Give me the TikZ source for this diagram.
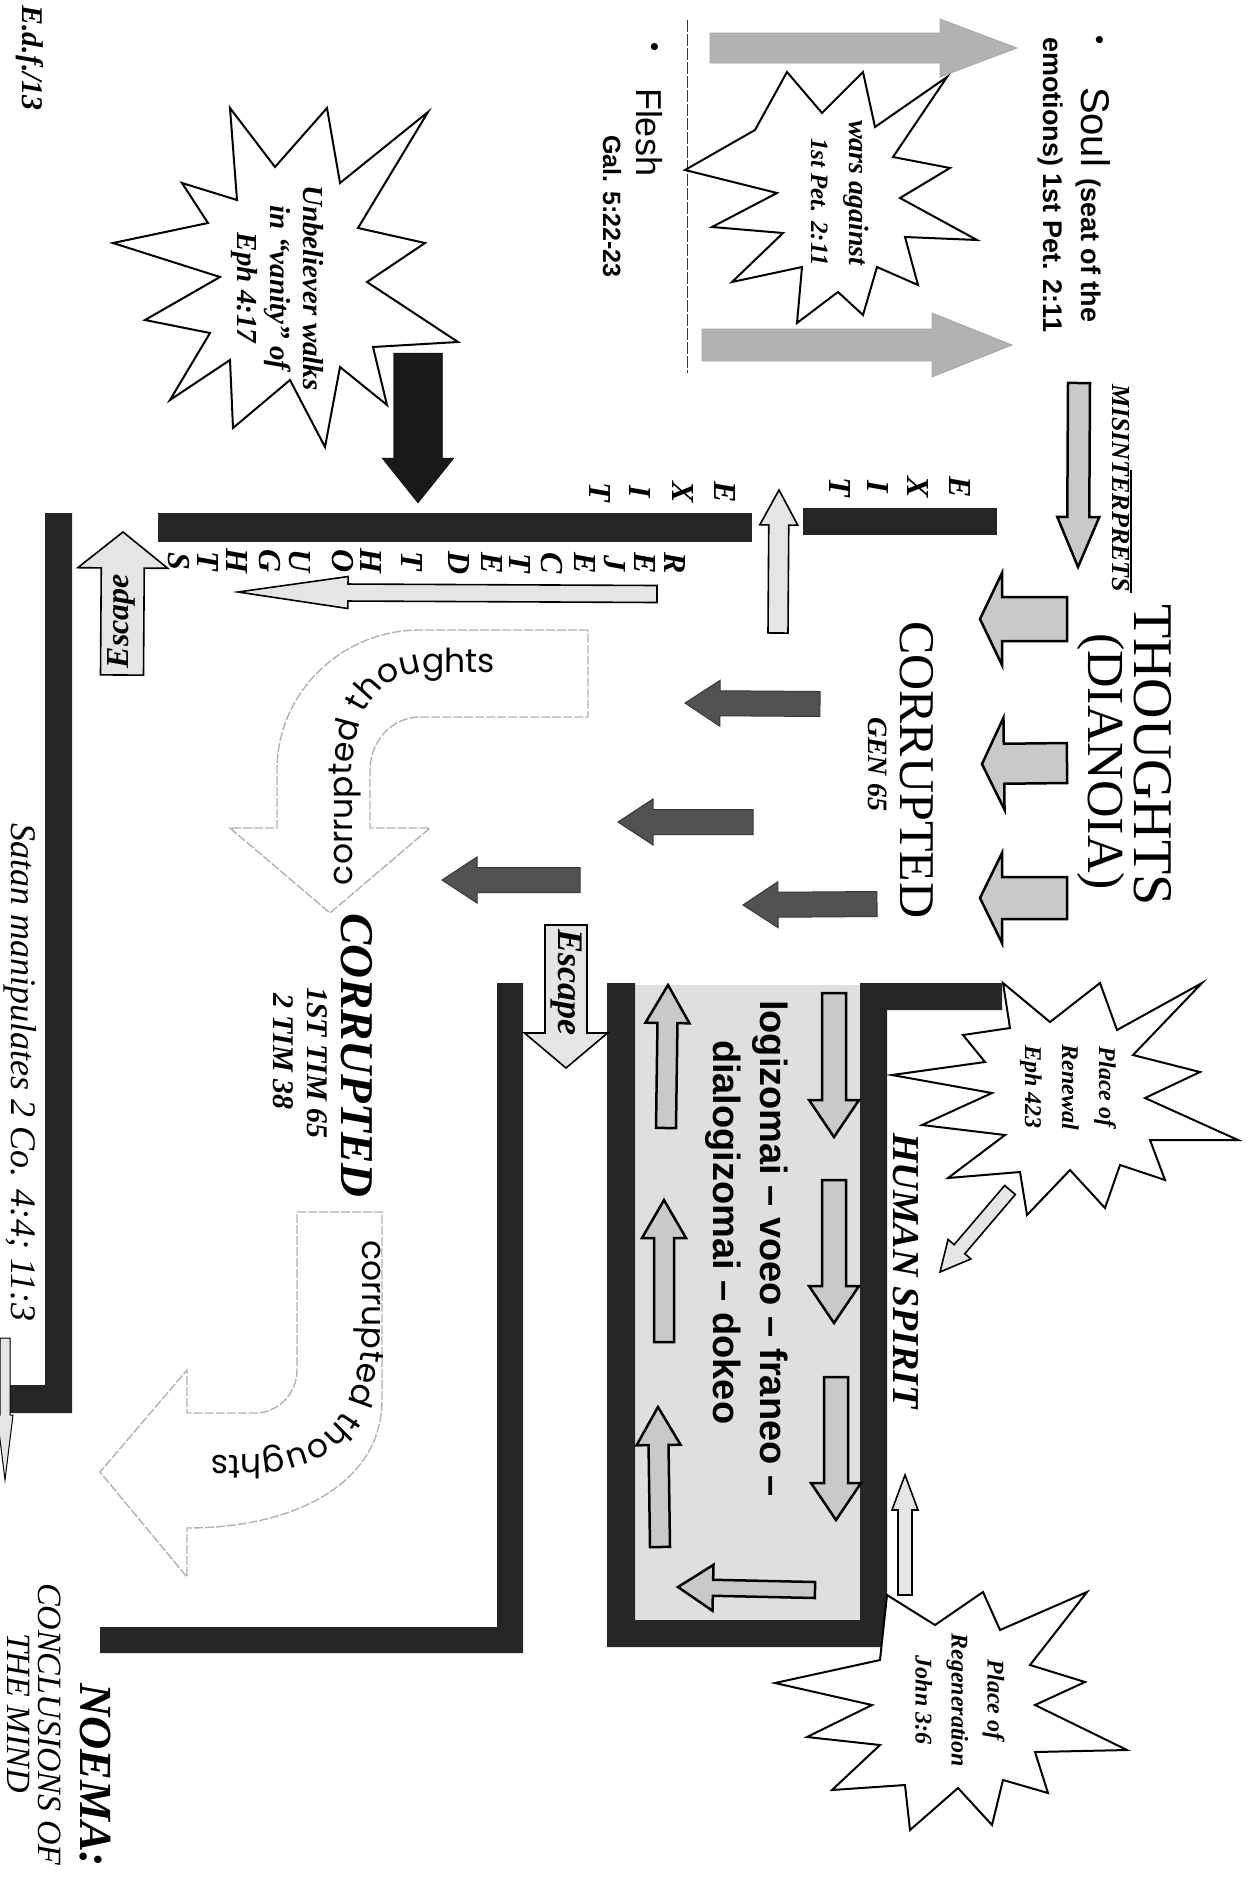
\documentclass[tikz,border=0pt]{standalone}
\usepackage{fontspec}
\setmainfont{Liberation Serif}
\newfontfamily\arial{Liberation Sans}
\newfontfamily\geo{Poppins}
\usetikzlibrary{calc,decorations.text}
\newcommand\setfs[1]{\fontsize{#1pt}{#1pt}\selectfont}
\newcommand\setfsb[2]{\fontsize{#1pt}{#2pt}\selectfont}
% block arrow: style, tail, tip, shaft half width, head half width, head length (px)
\newcommand\blk[6]{%
  \coordinate (bkT) at #2;
  \coordinate (bkH) at #3;
  \coordinate (bkB) at ($(bkH)!#6pt!(bkT)$);
  \draw[#1] ($(bkT)!#4pt!90:(bkH)$) -- ($(bkB)!#4pt!-90:(bkT)$) -- ($(bkB)!#5pt!-90:(bkT)$) -- (bkH) -- ($(bkB)!#5pt!90:(bkT)$) -- ($(bkB)!#4pt!90:(bkT)$) -- ($(bkT)!#4pt!-90:(bkH)$) -- cycle;
}
\tikzset{
  rt/.style={rotate=-90, inner sep=0pt, outer sep=0pt},
  barfill/.style={fill=black!85, draw=none},
  starline/.style={draw=black, line width=2pt, fill=white, line join=miter},
  garrow/.style={fill=gray!42, draw=black, line width=2.5pt, line join=miter},
  darrow/.style={fill=black!68, draw=black!78, line width=1pt},
  larrow/.style={fill=gray!20, draw=black, line width=1.6pt, line join=miter},
  rarrow/.style={fill=gray!60, draw=gray!70, line width=0.8pt},
  uarrow/.style={draw=gray!60, line width=1.4pt, dash pattern=on 9pt off 2pt, fill=white},
  letter/.style={rt, font=\bfseries\itshape\setfs{32}},
}
\begin{document}
\begin{tikzpicture}[x=1pt,y=-1pt]
\useasboundingbox (0,0) rectangle (1251,1891);
\fill[white] (0,0) rectangle (1251,1891);

% ---- grey box and black bars
\fill[gray!25] (635,985) rectangle (860,1620);
\fill[barfill] (607,983) -- (635,983) -- (635,1620) -- (860,1620) -- (860,983) -- (1002,983) -- (1002,1010) -- (887,1010) -- (887,1647) -- (607,1647) -- cycle;
\fill[barfill] (803,508) rectangle (997,535);
\fill[barfill] (158,513) rectangle (752,542);
\fill[barfill] (45,513) -- (72,513) -- (72,1413) -- (8,1413) -- (8,1385) -- (45,1385) -- cycle;
\fill[barfill] (497,983) -- (523,983) -- (523,1653) -- (100,1653) -- (100,1627) -- (497,1627) -- cycle;

% ---- divider between soul and flesh
\draw[black!80, line width=1pt, dash pattern=on 12pt off 2pt] (687,20) -- (687,373);
\draw[black, line width=2pt] (1131,470) -- (1131,593);

% ---- wars against arrows
\blk{rarrow}{(710,48)}{(1017,48)}{15}{29}{77}
\blk{rarrow}{(702,345)}{(1012,345)}{16}{32}{80}

% ---- stars
\draw[starline] (787,72) -- (822,113) -- (863,72) -- (875,127) -- (947,77) -- (893,157) -- (950,168) -- (900,198) -- (977,240) -- (905,237) -- (918,285) -- (877,267) -- (863,315) -- (838,292) -- (797,323) -- (802,267) -- (732,282) -- (783,233) -- (712,227) -- (777,193) -- (685,170) -- (755,130) -- cycle;
\draw[starline] (182,183) -- (237,200) -- (230,108) -- (275,167) -- (327,108) -- (340,183) -- (428,112) -- (358,228) -- (425,243) -- (367,282) -- (458,342) -- (373,347) -- (387,405) -- (340,367) -- (325,447) -- (290,380) -- (233,428) -- (230,360) -- (170,400) -- (210,333) -- (145,320) -- (220,277) -- (113,243) -- (208,223) -- cycle;
\draw[starline] (1003,983) -- (1050,1022) -- (1100,983) -- (1117,1030) -- (1202,983) -- (1133,1055) -- (1200,1072) -- (1145,1098) -- (1238,1140) -- (1150,1140) -- (1165,1180) -- (1120,1165) -- (1105,1208) -- (1070,1170) -- (1027,1215) -- (1020,1172) -- (948,1178) -- (1005,1135) -- (922,1125) -- (992,1093) -- (892,1075) -- (985,1062) -- (963,1035) -- (1010,1028) -- cycle;
\draw[starline] (887,1595) -- (935,1625) -- (983,1592) -- (1000,1630) -- (1087,1592) -- (1030,1665) -- (1085,1682) -- (1035,1705) -- (1127,1750) -- (1035,1752) -- (1048,1793) -- (1003,1780) -- (992,1825) -- (958,1788) -- (910,1830) -- (905,1785) -- (832,1790) -- (880,1745) -- (807,1737) -- (872,1705) -- (775,1683) -- (880,1660) -- cycle;

% ---- block arrows
\blk{fill=black!90, draw=black}{(418,353)}{(418,503)}{24.5}{36}{45}
\blk{garrow}{(1079,383)}{(1078,567)}{11}{21}{50}
\blk{garrow}{(1067,619)}{(980,619)}{22}{46}{22}
\blk{garrow}{(1067,763)}{(982,764)}{20}{46}{22}
\blk{garrow}{(1067,898)}{(980,898)}{21}{45}{22}
\blk{larrow}{(778,633)}{(779,490)}{10}{19}{35}
\blk{larrow}{(657,594)}{(238,592)}{8.5}{16}{110}
\blk{larrow}{(122,675)}{(123,532)}{21.5}{45}{36}
\blk{larrow}{(566,925)}{(566,1068)}{21}{41.5}{35}
\blk{darrow}{(820,704)}{(685,703)}{12.5}{23}{35}
\blk{darrow}{(753,822)}{(618,822)}{12.5}{23}{35}
\blk{darrow}{(580,880)}{(442,880)}{12.5}{23}{35}
\blk{darrow}{(877,904)}{(743,905)}{12.5}{23}{35}
\blk{garrow}{(834,993)}{(834,1137)}{12}{25}{37}
\blk{garrow}{(834,1180)}{(834,1323)}{12}{25}{37}
\blk{garrow}{(836,1377)}{(836,1520)}{12}{25}{37}
\blk{garrow}{(666,1128)}{(668,985)}{10}{22}{38}
\blk{garrow}{(664,1342)}{(664,1200)}{10}{22}{38}
\blk{garrow}{(660,1547)}{(658,1407)}{10}{22}{38}
\blk{garrow}{(815,1590)}{(678,1587)}{8}{23}{35}
\blk{larrow}{(1010,1190)}{(940,1272)}{7}{15}{30}
\blk{larrow}{(905,1595)}{(905,1475)}{7}{13}{35}
\blk{larrow, line width=1pt}{(5,1338)}{(5,1480)}{5}{8}{65}

% ---- curved "corrupted thoughts" arrows
\draw[uarrow] (588,630) -- (420,630) .. controls (341,630) and (277,693) .. (277,770) -- (277,828) -- (230,828) -- (330,913) -- (430,828) -- (370,828) -- (370,770) .. controls (370,741) and (392,717) .. (420,717) -- (588,717) -- cycle;
\path[decorate, decoration={text along path, text={|\geo\setfs{33}|corrupted thoughts}}] (352,885) -- (352,775) .. controls (352,712) and (380,672) .. (430,672) -- (600,672);
\draw[uarrow] (297,1212) -- (382,1212) -- (382,1400) .. controls (382,1480) and (300,1528) .. (187,1528) -- (187,1577) -- (100,1472) -- (187,1370) -- (187,1413) -- (255,1413) .. controls (278,1413) and (297,1394) .. (297,1370) -- cycle;
\path[decorate, decoration={text along path, text={|\geo\setfs{33}|corrupted thoughts}}] (362,1240) -- (362,1330) .. controls (360,1420) and (320,1455) .. (250,1455) -- (80,1455);

% ---- texts
\node[rt, font=\bfseries\itshape\setfs{30}] (edf) at (30,58) {E.d.f./13};
\node[rt, font=\arial\setfs{26}] (bul1) at (1097,40) {•};
\node[rt, anchor=base west, font=\arial\setfs{40}] (soul) at (1081,87) {Soul {\bfseries\setfs{27}(seat of the}};
\node[rt, anchor=base west, font=\arial\bfseries\setfs{27}] (emo) at (1043,37) {emotions) 1st Pet. 2:11};
\node[rt, font=\arial\setfs{26}] (bul2) at (652,47) {•};
\node[rt, anchor=base west, font=\arial\setfs{36}] (flesh) at (636,88) {Flesh};
\node[rt, anchor=base west, font=\arial\bfseries\setfs{25}] (gal) at (603,135) {Gal. 5:22-23};
\node[rt, anchor=base west, font=\bfseries\itshape\setfs{28}] (wars1) at (849,120) {wars against};
\node[rt, anchor=base west, font=\bfseries\itshape\setfs{25}] (wars2) at (811,138) {1st Pet. 2:11};
\node[rt, align=center, font=\bfseries\itshape\setfsb{29}{33}] (unbt) at (277,288) {Unbeliever walks\\in “vanity” of\\Eph 4:17};

\node[rt, anchor=base west, font=\bfseries\itshape\setfs{26}] (mis) at (1112,384) {MISINTERPRETS};
\node[rt, anchor=base west, font=\setfs{56}] (thoughts) at (1134,604) {THOUGHTS};
\node[rt, anchor=base west, font=\setfs{52}] (dianoia) at (1088,633) {(DIANOIA)};
\node[rt, anchor=base west, font=\setfs{50}] (corr1) at (900,621) {CORRUPTED};
\node[rt, anchor=base west, font=\bfseries\itshape\setfs{28}] (gen) at (868,717) {GEN 65};

\foreach \ch/\xx [count=\i] in {E/960,X/918,I/878,T/840} \node[letter] (exa\i) at (\xx,487) {\ch};
\foreach \ch/\xx [count=\i] in {E/725,X/683,I/640,T/600} \node[letter] (exb\i) at (\xx,492) {\ch};
\foreach \ch/\xx [count=\i] in {R/675,E/645,J/615,E/585,C/552,T/520,E/492,D/459} \node[letter] (rej\i) at (\xx,563) {\ch};
\foreach \ch/\xx [count=\i] in {T/412,H/371,O/343,U/300,G/270,H/237,T/208,S/179} \node[letter] (tho\i) at (\xx,561) {\ch};

\node[rotate=90, inner sep=0pt, font=\bfseries\itshape\setfs{32}] (esc1) at (121,621) {Escape};
\node[rt, font=\bfseries\itshape\setfs{36}] (esc2) at (566,982) {Escape};

\node[rt, anchor=base west, font=\bfseries\itshape\setfs{47}] (corr2) at (341,913) {CORRUPTED};
\node[rt, anchor=base west, font=\bfseries\itshape\setfs{30}] (tim1) at (307,987) {1ST TIM 65};
\node[rt, anchor=base west, font=\bfseries\itshape\setfs{30}] (tim2) at (273,993) {2 TIM 38};
\node[rt, anchor=base west, font=\itshape\setfs{36}] (satan) at (12,823) {Satan manipulates 2 Co. 4:4; 11:3};

\node[rt, anchor=base west, font=\bfseries\itshape\setfs{38}] (human) at (893,1133) {HUMAN SPIRIT};
\node[rt, anchor=base west, font=\arial\bfseries\setfs{38}] (logi) at (760,1000) {logizomai – voeo – franeo –};
\node[rt, anchor=base west, font=\arial\bfseries\setfs{38}] (dialo) at (713,1040) {dialogizomai – dokeo};
\node[rt, align=center, font=\bfseries\itshape\setfsb{24}{37}] (renew) at (1068,1087) {Place of\\Renewal\\Eph 423};
\node[rt, align=center, font=\bfseries\itshape\setfsb{24}{36}] (regen) at (960,1700) {Place of\\Regeneration\\John 3:6};

\node[rt, anchor=base west, font=\bfseries\itshape\setfs{46}] (noema) at (80,1683) {NOEMA:};
\node[rt, anchor=base west, font=\itshape\setfs{34}] (concl) at (38,1583) {CONCLUSIONS OF};
\node[rt, anchor=base west, font=\itshape\setfs{34}] (mind) at (7,1633) {THE MIND};
\end{tikzpicture}
\end{document}
